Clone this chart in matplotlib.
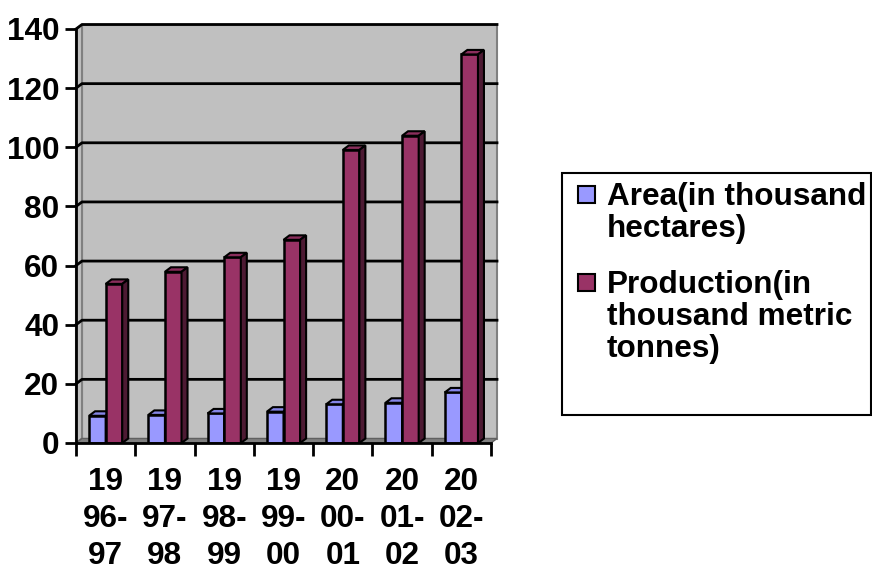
import matplotlib.pyplot as plt
from matplotlib.patches import Polygon, Rectangle

plt.rcParams['font.family'] = ['Liberation Sans', 'DejaVu Sans']
plt.rcParams['font.weight'] = 'bold'

years = ['19\n96-\n97', '19\n97-\n98', '19\n98-\n99', '19\n99-\n00',
         '20\n00-\n01', '20\n01-\n02', '20\n02-\n03']
area = [9.2, 9.5, 10.0, 10.6, 13.1, 13.6, 17.1]
production = [53.8, 57.9, 62.8, 68.7, 99.1, 103.9, 131.4]
series_names = ['Area(in thousand\nhectares)',
                'Production(in\nthousand metric\ntonnes)']

FS = 22.7
W, H = 872, 573
fig = plt.figure(figsize=(W / 100, H / 100), dpi=100)
ax = fig.add_axes([76 / W, 1 - 443 / H, 415 / W, 414 / H])
ax.set_xlim(0, 7)
ax.set_ylim(0, 140)

# depth of the fake 3d look, in data units
DX = 6 / (415 / 7)
DY = 4.5 / (414 / 140)

# walls and floor
ax.add_patch(Polygon([(DX, DY), (7 + DX, DY), (7 + DX, 140 + DY), (DX, 140 + DY)],
                     closed=True, facecolor='#c0c0c0', edgecolor='#808080',
                     lw=1.5, clip_on=False, zorder=0))
ax.add_patch(Polygon([(0, 0), (DX, DY), (DX, 140 + DY), (0, 140)],
                     closed=True, facecolor='#c0c0c0', edgecolor='#808080',
                     lw=1.5, clip_on=False, zorder=0))
ax.add_patch(Polygon([(0, 0), (7, 0), (7 + DX, DY), (DX, DY)],
                     closed=True, facecolor='#808080', edgecolor='#606060',
                     lw=1, clip_on=False, zorder=0.5))
for v in range(20, 141, 20):
    ax.plot([0, DX, 7 + DX], [v, v + DY, v + DY], color='black', lw=2,
            clip_on=False, zorder=1)


def draw_bars(offset, values, front, top, side):
    xs = [i + offset for i in range(len(values))]
    bw = 0.28
    ax.bar(xs, values, width=bw, align='edge', color=front,
           edgecolor='black', lw=1.8, zorder=3)
    for x, v in zip(xs, values):
        ax.add_patch(Polygon([(x, v), (x + bw, v), (x + bw + DX, v + DY), (x + DX, v + DY)],
                             closed=True, facecolor=top, edgecolor='black',
                             lw=1.5, zorder=3, clip_on=False))
        ax.add_patch(Polygon([(x + bw, 0), (x + bw + DX, DY), (x + bw + DX, v + DY), (x + bw, v)],
                             closed=True, facecolor=side, edgecolor='black',
                             lw=1.5, zorder=3, clip_on=False))


draw_bars(0.22, area, '#9999ff', '#8585e6', '#4d4d80')
draw_bars(0.50, production, '#993366', '#8a2e5c', '#4d1a33')

for s in ['top', 'right']:
    ax.spines[s].set_visible(False)
ax.spines['left'].set_linewidth(2)
ax.spines['bottom'].set_linewidth(2)
ax.spines['left'].set_zorder(4)
ax.spines['bottom'].set_zorder(4)

ax.set_yticks(range(0, 141, 20))
ax.tick_params(axis='y', length=8, width=2, labelsize=FS, pad=4)
ax.set_xticks([i + 0.5 for i in range(7)])
ax.set_xticklabels(years, fontsize=FS, linespacing=1.32)
ax.set_xticks(range(8), minor=True)
ax.tick_params(axis='x', which='major', length=0, pad=17)
ax.tick_params(axis='x', which='minor', length=9, width=2)
for lab in ax.get_yticklabels() + ax.get_xticklabels():
    lab.set_fontweight('bold')

# legend box drawn in pixel coordinates
px = fig.transFigure
def fx(x):
    return x / W
def fy(y):
    return 1 - y / H

fig.patches.append(Rectangle((fx(562), fy(415)), (871 - 562) / W, (415 - 173) / H,
                             transform=px, facecolor='white', edgecolor='black', lw=1.5))
colors = ['#9999ff', '#993366']
rows = [186, 274]
for name, c, y in zip(series_names, colors, rows):
    fig.patches.append(Rectangle((fx(578), fy(y + 17)), 17 / W, 17 / H, transform=px,
                                 facecolor=c, edgecolor='black', lw=1.5))
    fig.text(fx(607), fy(y - 4), name, fontsize=FS, fontweight='bold',
             va='top', ha='left', linespacing=1.08)

fig.savefig('out.png', dpi=100)
